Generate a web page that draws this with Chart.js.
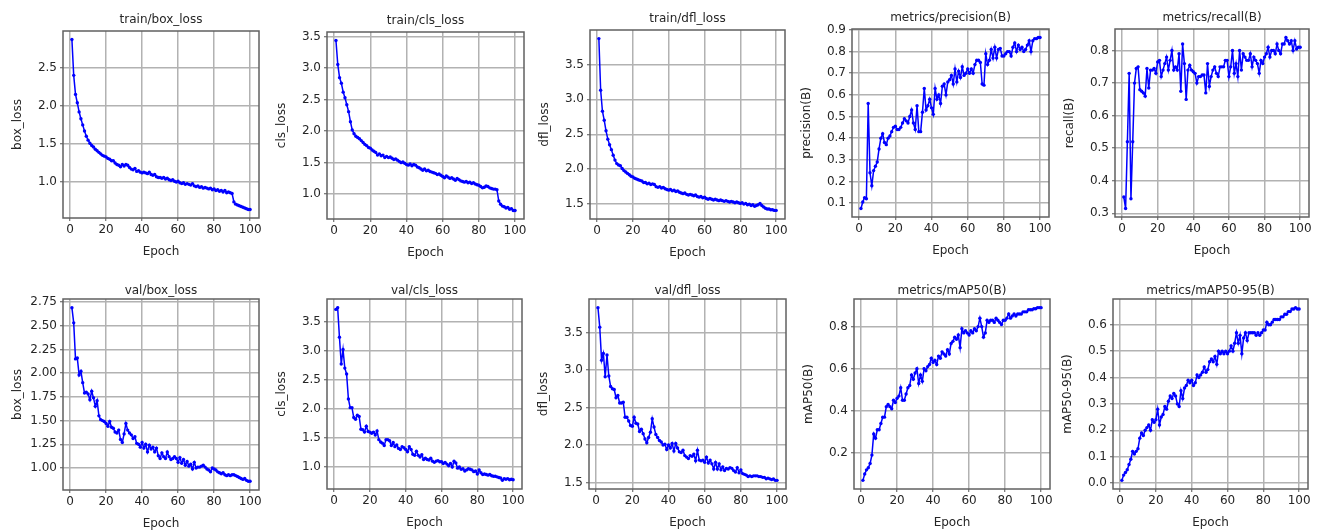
<!DOCTYPE html>
<html>
<head>
<meta charset="utf-8">
<script src="https://cdn.jsdelivr.net/npm/chart.js@4.4.0/dist/chart.umd.min.js"></script>
<style>
  html, body { margin: 0; padding: 0; background: #fff; overflow: hidden; }
  #wrap { position: relative; width: 1323px; height: 531px; }
  #wrap canvas { position: absolute; }
</style>
</head>
<body>
<div id="wrap"></div>
<script>
// epochs 1..100
var epochs = [];
for (var i = 1; i <= 100; i++) epochs.push(i);
var xTicks = [0, 20, 40, 60, 80, 100];

var trainBoxLoss = [2.87,2.40,2.15,2.04,1.92,1.83,1.75,1.67,1.60,1.55,
  1.51,1.48,1.46,1.43,1.41,1.39,1.37,1.35,1.34,1.33,
  1.31,1.30,1.28,1.28,1.25,1.23,1.22,1.20,1.23,1.21,
  1.23,1.22,1.19,1.17,1.16,1.18,1.14,1.15,1.13,1.12,
  1.13,1.12,1.11,1.13,1.10,1.09,1.10,1.07,1.06,1.06,
  1.05,1.06,1.04,1.05,1.03,1.02,1.03,1.01,1.00,1.01,
  0.99,0.98,0.99,0.97,0.98,0.97,0.96,0.98,0.95,0.94,
  0.95,0.93,0.94,0.92,0.93,0.92,0.91,0.92,0.90,0.91,
  0.89,0.90,0.88,0.89,0.87,0.89,0.86,0.87,0.86,0.85,
  0.74,0.71,0.70,0.69,0.68,0.67,0.66,0.65,0.64,0.64];

var trainClsLoss = [3.44,3.06,2.85,2.76,2.62,2.53,2.42,2.31,2.15,2.02,
  1.96,1.92,1.90,1.88,1.85,1.82,1.79,1.77,1.74,1.73,
  1.70,1.68,1.66,1.62,1.64,1.61,1.62,1.58,1.60,1.58,
  1.59,1.57,1.55,1.56,1.54,1.52,1.50,1.51,1.49,1.47,
  1.46,1.48,1.45,1.47,1.46,1.43,1.42,1.40,1.38,1.40,
  1.37,1.38,1.36,1.35,1.34,1.33,1.31,1.32,1.30,1.28,
  1.26,1.29,1.27,1.25,1.26,1.24,1.22,1.25,1.23,1.21,
  1.20,1.19,1.20,1.18,1.19,1.17,1.18,1.16,1.15,1.14,
  1.12,1.10,1.11,1.13,1.12,1.10,1.09,1.08,1.08,1.07,
  0.89,0.84,0.81,0.80,0.78,0.79,0.76,0.77,0.74,0.74];

var trainDflLoss = [3.87,3.13,2.83,2.70,2.55,2.43,2.35,2.28,2.20,2.13,
  2.08,2.06,2.05,2.01,1.98,1.96,1.94,1.92,1.90,1.89,
  1.87,1.86,1.85,1.84,1.83,1.81,1.81,1.79,1.80,1.78,
  1.79,1.78,1.75,1.74,1.75,1.73,1.74,1.72,1.71,1.70,
  1.71,1.69,1.70,1.68,1.69,1.67,1.66,1.65,1.66,1.64,
  1.63,1.64,1.63,1.62,1.63,1.61,1.60,1.61,1.59,1.60,
  1.58,1.57,1.58,1.57,1.56,1.57,1.56,1.55,1.56,1.55,
  1.54,1.55,1.54,1.53,1.54,1.53,1.52,1.53,1.52,1.51,
  1.52,1.50,1.51,1.49,1.50,1.48,1.49,1.47,1.48,1.49,
  1.51,1.48,1.46,1.44,1.43,1.43,1.42,1.42,1.41,1.41];

var precision = [0.075,0.105,0.125,0.12,0.56,0.24,0.18,0.25,0.27,0.29,
  0.35,0.40,0.42,0.38,0.37,0.40,0.41,0.43,0.45,0.455,
  0.44,0.44,0.45,0.47,0.49,0.48,0.47,0.50,0.53,0.47,
  0.44,0.55,0.43,0.43,0.52,0.63,0.53,0.55,0.58,0.54,
  0.51,0.63,0.58,0.60,0.56,0.64,0.65,0.60,0.66,0.67,
  0.69,0.65,0.72,0.66,0.71,0.68,0.73,0.69,0.70,0.72,
  0.70,0.72,0.70,0.74,0.76,0.76,0.75,0.65,0.645,0.79,
  0.74,0.76,0.81,0.77,0.82,0.77,0.81,0.815,0.78,0.78,
  0.79,0.80,0.80,0.78,0.82,0.84,0.80,0.83,0.81,0.82,
  0.80,0.81,0.83,0.85,0.80,0.85,0.86,0.86,0.865,0.865];

var recall = [0.35,0.315,0.52,0.73,0.345,0.52,0.70,0.745,0.75,0.68,
  0.675,0.67,0.66,0.745,0.685,0.74,0.74,0.745,0.73,0.765,
  0.77,0.72,0.74,0.76,0.78,0.74,0.77,0.80,0.74,0.75,
  0.74,0.79,0.675,0.82,0.76,0.65,0.74,0.755,0.74,0.735,
  0.73,0.70,0.72,0.72,0.725,0.725,0.67,0.76,0.69,0.72,
  0.74,0.75,0.73,0.72,0.75,0.75,0.75,0.77,0.77,0.72,
  0.75,0.80,0.73,0.76,0.72,0.80,0.74,0.79,0.78,0.77,
  0.77,0.79,0.75,0.78,0.77,0.76,0.73,0.77,0.76,0.78,
  0.79,0.81,0.78,0.80,0.80,0.79,0.82,0.80,0.79,0.82,
  0.82,0.84,0.83,0.82,0.83,0.80,0.83,0.805,0.81,0.81];

var valBoxLoss = [2.69,2.53,2.15,2.16,1.98,2.02,1.90,1.79,1.80,1.78,
  1.72,1.81,1.74,1.65,1.71,1.55,1.51,1.50,1.49,1.47,
  1.44,1.49,1.43,1.42,1.38,1.37,1.40,1.30,1.27,1.36,
  1.47,1.40,1.37,1.35,1.31,1.33,1.26,1.25,1.22,1.27,
  1.21,1.25,1.17,1.24,1.20,1.22,1.17,1.21,1.13,1.10,
  1.16,1.12,1.10,1.17,1.12,1.09,1.10,1.12,1.10,1.06,
  1.11,1.05,1.09,1.03,1.07,1.02,1.04,0.99,1.06,1.00,
  1.01,1.01,1.02,1.03,1.01,0.99,0.98,0.96,1.00,0.99,
  0.98,0.96,0.95,0.94,0.95,0.93,0.92,0.93,0.92,0.93,
  0.93,0.92,0.91,0.90,0.89,0.88,0.89,0.87,0.86,0.86];

var valClsLoss = [3.71,3.74,3.23,2.77,3.02,2.70,2.60,2.17,2.02,2.02,
  1.85,1.82,1.89,1.87,1.65,1.64,1.60,1.70,1.61,1.60,
  1.58,1.60,1.55,1.62,1.47,1.43,1.41,1.37,1.47,1.47,
  1.45,1.37,1.42,1.35,1.38,1.32,1.30,1.35,1.33,1.30,
  1.26,1.35,1.30,1.22,1.20,1.27,1.20,1.17,1.21,1.13,
  1.15,1.13,1.12,1.15,1.10,1.08,1.10,1.11,1.09,1.09,
  1.06,1.08,1.05,1.02,1.06,1.00,1.10,1.07,0.98,1.00,
  0.96,0.97,0.93,0.95,0.97,0.96,0.95,0.92,0.93,0.88,
  0.95,0.90,0.87,0.88,0.87,0.86,0.87,0.85,0.84,0.84,
  0.83,0.82,0.81,0.77,0.80,0.79,0.80,0.78,0.79,0.78];

var valDflLoss = [3.83,3.57,3.13,3.22,2.91,3.20,2.92,2.78,2.75,2.74,
  2.63,2.66,2.56,2.56,2.57,2.37,2.37,2.32,2.26,2.25,
  2.37,2.29,2.28,2.18,2.21,2.15,2.08,2.03,2.10,2.17,
  2.35,2.24,2.14,2.10,2.06,2.04,2.00,2.01,1.94,2.00,
  1.96,2.02,1.92,2.02,1.96,1.91,1.90,1.93,1.86,1.84,
  1.82,1.86,1.85,1.88,1.79,1.93,1.80,1.79,1.80,1.77,
  1.84,1.76,1.80,1.75,1.68,1.77,1.68,1.75,1.67,1.71,
  1.66,1.69,1.68,1.70,1.69,1.66,1.64,1.70,1.63,1.67,
  1.62,1.61,1.60,1.58,1.59,1.58,1.59,1.59,1.59,1.58,
  1.58,1.57,1.57,1.55,1.56,1.55,1.54,1.55,1.53,1.53];

var mAP50 = [0.07,0.10,0.12,0.13,0.15,0.19,0.29,0.27,0.31,0.31,
  0.34,0.37,0.37,0.42,0.43,0.42,0.41,0.45,0.44,0.46,
  0.47,0.51,0.45,0.45,0.48,0.51,0.52,0.57,0.55,0.58,
  0.60,0.53,0.57,0.54,0.60,0.59,0.61,0.62,0.65,0.63,
  0.64,0.62,0.66,0.65,0.68,0.67,0.66,0.69,0.67,0.72,
  0.73,0.75,0.74,0.76,0.70,0.79,0.77,0.78,0.77,0.76,
  0.78,0.77,0.79,0.78,0.80,0.84,0.80,0.75,0.77,0.83,
  0.82,0.83,0.83,0.82,0.84,0.83,0.82,0.81,0.83,0.83,
  0.84,0.86,0.84,0.85,0.86,0.85,0.86,0.86,0.86,0.87,
  0.87,0.87,0.88,0.88,0.88,0.885,0.885,0.89,0.89,0.89];

var mAP5095 = [0.01,0.03,0.04,0.05,0.07,0.09,0.12,0.11,0.12,0.13,
  0.17,0.19,0.18,0.20,0.21,0.22,0.20,0.24,0.23,0.24,
  0.28,0.22,0.25,0.26,0.29,0.28,0.31,0.33,0.32,0.34,
  0.33,0.30,0.29,0.35,0.32,0.36,0.37,0.39,0.38,0.39,
  0.37,0.38,0.41,0.40,0.41,0.42,0.44,0.42,0.43,0.46,
  0.47,0.46,0.48,0.45,0.50,0.49,0.50,0.49,0.50,0.49,
  0.50,0.52,0.50,0.53,0.57,0.53,0.56,0.49,0.55,0.57,
  0.54,0.57,0.57,0.57,0.57,0.56,0.57,0.56,0.57,0.58,
  0.58,0.61,0.60,0.60,0.61,0.62,0.62,0.62,0.62,0.63,
  0.63,0.64,0.64,0.65,0.65,0.66,0.66,0.665,0.66,0.66];

// y tick labels
var ticksTrainBox = [1.0, 1.5, 2.0, 2.5];
var ticksTrainCls = [1.0, 1.5, 2.0, 2.5, 3.0, 3.5];
var ticksTrainDfl = [1.5, 2.0, 2.5, 3.0, 3.5];
var ticksPrecision = [0.1, 0.2, 0.3, 0.4, 0.5, 0.6, 0.7, 0.8, 0.9];
var ticksRecall = [0.3, 0.4, 0.5, 0.6, 0.7, 0.8];
var ticksValBox = [1.00, 1.25, 1.50, 1.75, 2.00, 2.25, 2.50, 2.75];
var ticksValCls = [1.0, 1.5, 2.0, 2.5, 3.0, 3.5];
var ticksValDfl = [1.5, 2.0, 2.5, 3.0, 3.5];
var ticksMAP50 = [0.2, 0.4, 0.6, 0.8];
var ticksMAP5095 = [0.0, 0.1, 0.2, 0.3, 0.4, 0.5, 0.6];

// plot-area boxes [left, top, right, bottom] in page pixels
var panels = [
  {title: 'train/box_loss', ylabel: 'box_loss', values: trainBoxLoss, yTicks: ticksTrainBox, dec: 1, box: [63, 31, 259, 218], gap: 4},
  {title: 'train/cls_loss', ylabel: 'cls_loss', values: trainClsLoss, yTicks: ticksTrainCls, dec: 1, box: [327, 32, 524, 219], gap: 4},
  {title: 'train/dfl_loss', ylabel: 'dfl_loss', values: trainDflLoss, yTicks: ticksTrainDfl, dec: 1, box: [590, 30, 785, 219], gap: 4},
  {title: 'metrics/precision(B)', ylabel: 'precision(B)', values: precision, yTicks: ticksPrecision, dec: 1, box: [852, 29, 1049, 217], gap: 4},
  {title: 'metrics/recall(B)', ylabel: 'recall(B)', values: recall, yTicks: ticksRecall, dec: 1, box: [1115, 29, 1309, 217], gap: 4},
  {title: 'val/box_loss', ylabel: 'box_loss', values: valBoxLoss, yTicks: ticksValBox, dec: 2, box: [63, 299, 259, 490], gap: 1},
  {title: 'val/cls_loss', ylabel: 'cls_loss', values: valClsLoss, yTicks: ticksValCls, dec: 1, box: [327, 299, 522, 489], gap: 1},
  {title: 'val/dfl_loss', ylabel: 'dfl_loss', values: valDflLoss, yTicks: ticksValDfl, dec: 1, box: [589, 299, 786, 489], gap: 1},
  {title: 'metrics/mAP50(B)', ylabel: 'mAP50(B)', values: mAP50, yTicks: ticksMAP50, dec: 1, box: [854, 299, 1050, 489], gap: 1},
  {title: 'metrics/mAP50-95(B)', ylabel: 'mAP50-95(B)', values: mAP5095, yTicks: ticksMAP5095, dec: 1, box: [1113, 299, 1308, 489], gap: 1}
];

var YW = 54, XH = 44, RP = 14;
var FONT = 'DejaVu Sans';
var TEXT = '#262626';
var GRID = '#b2b2b2';

var framePlugin = {
  id: 'frame',
  beforeDatasetsDraw: function(chart) {
    var a = chart.chartArea, ctx = chart.ctx;
    ctx.save();
    ctx.strokeStyle = '#606060';
    ctx.lineWidth = 1.5;
    ctx.strokeRect(a.left, a.top, a.right - a.left, a.bottom - a.top);
    ctx.restore();
  }
};

var wrap = document.getElementById('wrap');

panels.forEach(function(p) {
  var L = p.box[0], T = p.box[1], R = p.box[2], B = p.box[3];
  var TH = 6 + 14 + p.gap;
  var cv = document.createElement('canvas');
  cv.width = YW + (R - L) + RP;
  cv.height = TH + (B - T) + XH;
  cv.style.left = (L - YW) + 'px';
  cv.style.top = (T - TH) + 'px';
  wrap.appendChild(cv);

  var lo = Math.min.apply(null, p.values), hi = Math.max.apply(null, p.values);
  var m = (hi - lo) * 0.05;

  new Chart(cv, {
    type: 'line',
    data: {
      datasets: [{
        data: epochs.map(function(e, i) { return {x: e, y: p.values[i]}; }),
        borderColor: '#0000ff',
        backgroundColor: '#0000ff',
        borderWidth: 1.5,
        pointRadius: 1.7,
        pointHoverRadius: 1.7,
        pointBorderWidth: 0,
        tension: 0,
        fill: false
      }]
    },
    options: {
      responsive: false,
      animation: false,
      layout: {padding: {left: 0, right: RP, top: 0, bottom: 0}},
      plugins: {
        legend: {display: false},
        tooltip: {enabled: false},
        title: {
          display: true,
          fullSize: false,
          text: p.title,
          color: TEXT,
          font: {family: FONT, size: 12, weight: 'normal', lineHeight: '14px'},
          padding: {top: 6, bottom: p.gap}
        }
      },
      scales: {
        x: {
          type: 'linear',
          min: 1 - 4.95,
          max: 100 + 4.95,
          afterBuildTicks: function(s) { s.ticks = xTicks.map(function(v) { return {value: v}; }); },
          afterFit: function(s) { s.height = XH; },
          grid: {color: GRID, lineWidth: 1.5, tickLength: 3, tickColor: '#555', tickWidth: 1},
          border: {display: false},
          ticks: {
            color: TEXT, padding: 2, maxRotation: 0,
            font: {family: FONT, size: 12},
            callback: function(v) { return String(v); }
          },
          title: {display: true, text: 'Epoch', color: TEXT, font: {family: FONT, size: 12}, padding: {top: 0, bottom: 3}}
        },
        y: {
          type: 'linear',
          min: lo - m,
          max: hi + m,
          afterBuildTicks: function(s) { s.ticks = p.yTicks.map(function(v) { return {value: v}; }); },
          afterFit: function(s) { s.width = YW; },
          grid: {color: GRID, lineWidth: 1.5, tickLength: 3, tickColor: '#555', tickWidth: 1},
          border: {display: false},
          ticks: {
            color: TEXT, padding: 3,
            font: {family: FONT, size: 12},
            callback: function(v) { return Number(v).toFixed(p.dec); }
          },
          title: {display: true, text: p.ylabel, color: TEXT, font: {family: FONT, size: 12}, padding: {top: 2, bottom: 0}}
        }
      }
    },
    plugins: [framePlugin]
  });
});
</script>
</body>
</html>
